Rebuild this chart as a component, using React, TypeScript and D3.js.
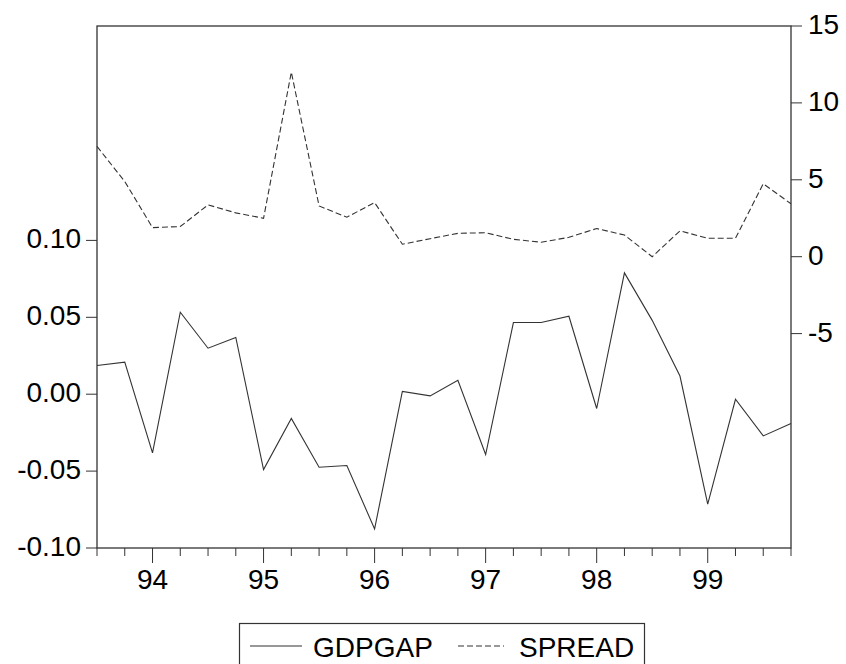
import { useEffect, useRef } from "react";
import * as d3 from "d3";

const quarters = [
  "93Q3", "93Q4",
  "94Q1", "94Q2", "94Q3", "94Q4",
  "95Q1", "95Q2", "95Q3", "95Q4",
  "96Q1", "96Q2", "96Q3", "96Q4",
  "97Q1", "97Q2", "97Q3", "97Q4",
  "98Q1", "98Q2", "98Q3", "98Q4",
  "99Q1", "99Q2", "99Q3", "99Q4",
];

const gdpgap = [
  0.0187, 0.0208, -0.0382, 0.0533, 0.0299, 0.0369, -0.049, -0.0158, -0.0475,
  -0.0464, -0.0876, 0.0018, -0.0011, 0.0091, -0.0392, 0.0466, 0.0466, 0.0507,
  -0.0093, 0.0789, 0.048, 0.0118, -0.0715, -0.0033, -0.0271, -0.019,
];

const spread = [
  7.17, 4.89, 1.89, 1.96, 3.37, 2.85, 2.5, 12.0, 3.3, 2.57, 3.52, 0.81, 1.17,
  1.52, 1.56, 1.13, 0.94, 1.26, 1.83, 1.41, 0.0, 1.68, 1.2, 1.2, 4.74, 3.44,
];

const leftTicks = [-0.1, -0.05, 0, 0.05, 0.1];
const rightTicks = [-5, 0, 5, 10, 15];

const W = 846;
const H = 664;
const FONT = "'Liberation Sans', Arial, sans-serif";
const INK = "#000";
const LINE = "#333";

export default function App() {
  const ref = useRef<SVGSVGElement>(null);

  useEffect(() => {
    const svg = d3.select(ref.current);
    if (!svg.node()) return;
    svg.selectAll("*").remove();

    const left = 97;
    const right = 791;
    const top = 26;
    const bottom = 548;

    const x = d3.scaleLinear().domain([0, quarters.length - 1]).range([left, right]);
    const yL = d3.scaleLinear().domain([-0.1, 0.2394]).range([bottom, top]);
    const yR = d3.scaleLinear().domain([-18.94, 15]).range([bottom, top]);

    // frame
    svg
      .append("rect")
      .attr("x", left)
      .attr("y", top)
      .attr("width", right - left)
      .attr("height", bottom - top)
      .attr("fill", "none")
      .attr("stroke", LINE)
      .attr("stroke-width", 1.3);

    // left axis
    const gl = svg.append("g");
    gl.selectAll("line")
      .data(leftTicks)
      .join("line")
      .attr("x1", left - 11)
      .attr("x2", left)
      .attr("y1", (d) => yL(d))
      .attr("y2", (d) => yL(d))
      .attr("stroke", LINE)
      .attr("stroke-width", 1);
    gl.selectAll("text")
      .data(leftTicks)
      .join("text")
      .attr("x", left - 16)
      .attr("y", (d) => yL(d) + 8)
      .attr("text-anchor", "end")
      .attr("font-family", FONT)
      .attr("font-size", 28)
      .attr("fill", INK)
      .text((d) => d3.format(".2f")(d).replace("−", "-"));

    // right axis
    const gr = svg.append("g");
    gr.selectAll("line")
      .data(rightTicks)
      .join("line")
      .attr("x1", right)
      .attr("x2", right + 11)
      .attr("y1", (d) => yR(d))
      .attr("y2", (d) => yR(d))
      .attr("stroke", LINE)
      .attr("stroke-width", 1);
    gr.selectAll("text")
      .data(rightTicks)
      .join("text")
      .attr("x", right + 17)
      .attr("y", (d) => yR(d) + 8)
      .attr("font-family", FONT)
      .attr("font-size", 28)
      .attr("fill", INK)
      .text((d) => String(d));

    // bottom axis
    const gb = svg.append("g");
    gb.selectAll("line")
      .data(quarters)
      .join("line")
      .attr("x1", (_, i) => x(i))
      .attr("x2", (_, i) => x(i))
      .attr("y1", bottom)
      .attr("y2", (d) => (d.endsWith("Q1") ? bottom + 15 : bottom + 8))
      .attr("stroke", LINE)
      .attr("stroke-width", 1);
    gb.selectAll("text")
      .data(quarters.map((q, i) => ({ q, i })).filter((d) => d.q.endsWith("Q1")))
      .join("text")
      .attr("x", (d) => x(d.i))
      .attr("y", bottom + 41)
      .attr("text-anchor", "middle")
      .attr("font-family", FONT)
      .attr("font-size", 28)
      .attr("fill", INK)
      .text((d) => d.q.slice(0, 2));

    const lineL = d3
      .line<number>()
      .x((_, i) => x(i))
      .y((d) => yL(d));
    const lineR = d3
      .line<number>()
      .x((_, i) => x(i))
      .y((d) => yR(d));

    svg
      .append("path")
      .attr("d", lineR(spread))
      .attr("fill", "none")
      .attr("stroke", LINE)
      .attr("stroke-width", 1.1)
      .attr("stroke-dasharray", "6,3");

    svg
      .append("path")
      .attr("d", lineL(gdpgap))
      .attr("fill", "none")
      .attr("stroke", LINE)
      .attr("stroke-width", 1.1);

    // legend
    const lg = svg.append("g");
    lg.append("rect")
      .attr("x", 239.5)
      .attr("y", 623.5)
      .attr("width", 405)
      .attr("height", 50)
      .attr("fill", "none")
      .attr("stroke", LINE)
      .attr("stroke-width", 1.2);
    lg.append("line")
      .attr("x1", 250)
      .attr("x2", 302)
      .attr("y1", 646)
      .attr("y2", 646)
      .attr("stroke", LINE)
      .attr("stroke-width", 1.1);
    lg.append("text")
      .attr("x", 313)
      .attr("y", 657)
      .attr("font-family", FONT)
      .attr("font-size", 28)
      .attr("fill", INK)
      .text("GDPGAP");
    lg.append("line")
      .attr("x1", 458)
      .attr("x2", 504)
      .attr("y1", 646)
      .attr("y2", 646)
      .attr("stroke", LINE)
      .attr("stroke-width", 1.1)
      .attr("stroke-dasharray", "6,3");
    lg.append("text")
      .attr("x", 519)
      .attr("y", 657)
      .attr("font-family", FONT)
      .attr("font-size", 28)
      .attr("fill", INK)
      .text("SPREAD");
  }, []);

  return (
    <svg
      ref={ref}
      width={W}
      height={H}
      style={{ position: "absolute", left: 0, top: 0, background: "#fff" }}
    />
  );
}
